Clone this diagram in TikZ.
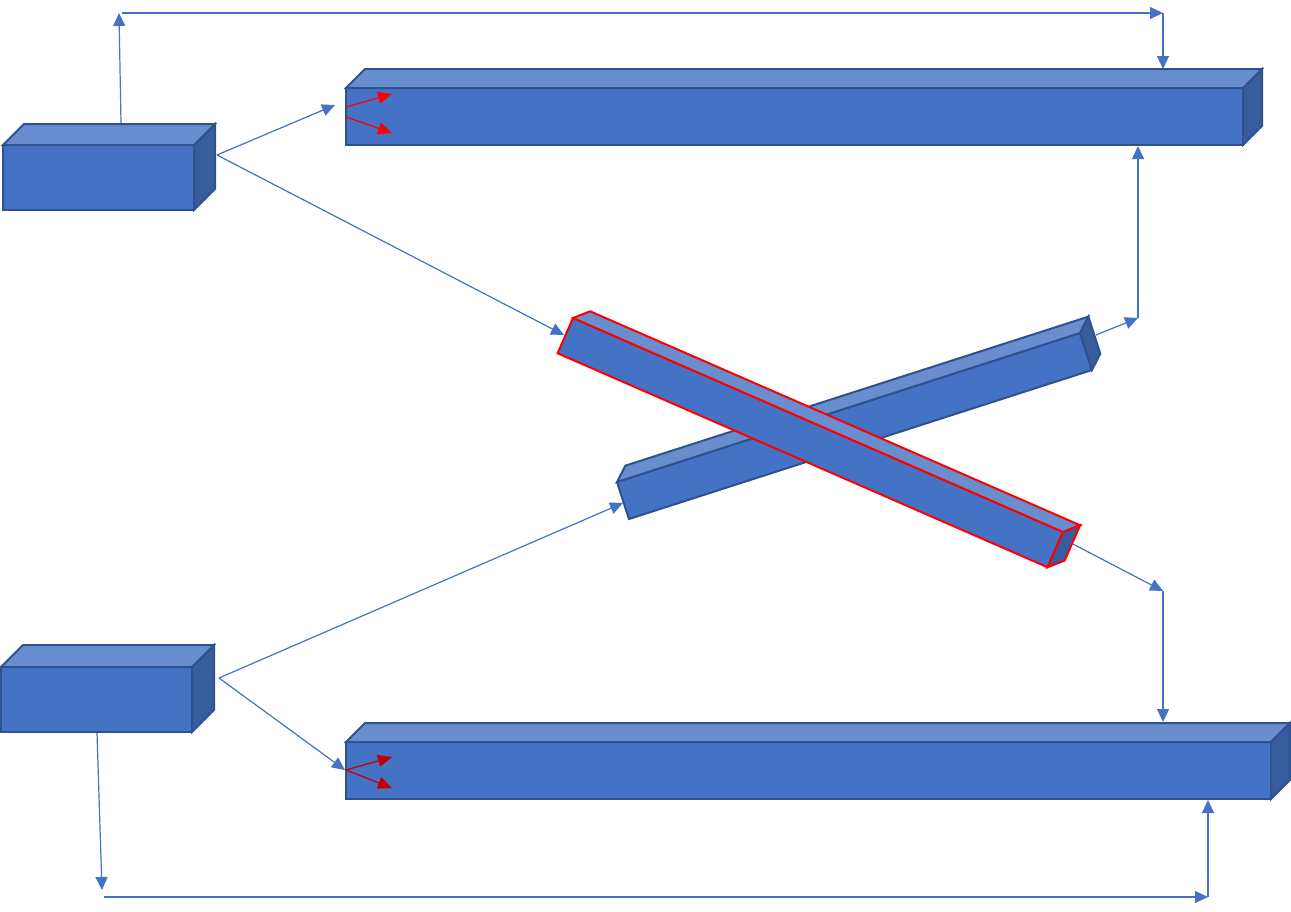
\documentclass[tikz,border=0pt]{standalone}
\usepackage{xcolor}
\usetikzlibrary{arrows.meta}
\definecolor{boxfront}{HTML}{4472C4}
\definecolor{boxtop}{HTML}{698ED0}
\definecolor{boxside}{HTML}{385D9C}
\definecolor{boxedge}{HTML}{2F528F}
\definecolor{linkblue}{HTML}{4472C4}
\definecolor{darkred}{HTML}{C00000}

\tikzset{
  link/.style={draw=linkblue, line width=0.6pt, -{Triangle[length=6.5pt, width=6pt]}},
  flow/.style={draw=#1, line width=0.6pt, -{Triangle[length=7pt, width=6pt]}},
  face/.style={draw=#1, line width=1pt},
}

% width, height, depth, edge colour (local frame, y pointing down)
\newcommand{\drawcuboid}[4]{%
  \filldraw[face=#4, fill=boxfront] (0,0) rectangle (#1,#2);
  \filldraw[face=#4, fill=boxtop] (0,0) -- (#3,-#3) -- ({#1+#3},-#3) -- (#1,0) -- cycle;
  \filldraw[face=#4, fill=boxside] (#1,0) -- ({#1+#3},-#3) -- ({#1+#3},{#2-#3}) -- (#1,#2) -- cycle;
}

\begin{document}
\begin{tikzpicture}[x=0.5pt, y=-0.5pt]
  \useasboundingbox (0,0) rectangle (1291,911);

  % boxes
  \begin{scope}[shift={(3,145)}]
    \drawcuboid{191}{65}{21}{boxedge}
  \end{scope}
  \begin{scope}[shift={(1,667)}]
    \drawcuboid{191}{65}{22}{boxedge}
  \end{scope}
  \begin{scope}[shift={(346,88)}]
    \drawcuboid{897}{57}{19}{boxedge}
  \end{scope}
  \begin{scope}[shift={(346,742)}]
    \drawcuboid{925}{57}{19}{boxedge}
  \end{scope}
  \begin{scope}[shift={(617,482)}, rotate=17.84]
    \drawcuboid{486.4}{38.9}{13}{boxedge}
  \end{scope}
  \begin{scope}[shift={(573,318)}, rotate=-23.59]
    \drawcuboid{534.7}{38.5}{13}{red}
  \end{scope}

  % connector ends
  \coordinate (a-top) at (121,123);
  \coordinate (a-up) at (119,13);
  \coordinate (top-left) at (122,13);
  \coordinate (top-right) at (1163,13);
  \coordinate (c-top) at (1163,69);
  \coordinate (a-side) at (217,155);
  \coordinate (c-left) at (335,105);
  \coordinate (e-left) at (564,335);
  \coordinate (f-right) at (1096,335);
  \coordinate (f-turn) at (1138,318);
  \coordinate (c-bottom) at (1138,146);
  \coordinate (e-right) at (1073,544);
  \coordinate (e-turn) at (1163,591);
  \coordinate (d-top) at (1163,722);
  \coordinate (b-side) at (219,678);
  \coordinate (f-left) at (623,503);
  \coordinate (d-left) at (345,770);
  \coordinate (b-bottom) at (97,733);
  \coordinate (b-down) at (102,890);
  \coordinate (bottom-left) at (104,897);
  \coordinate (bottom-right) at (1208,897);
  \coordinate (d-bottom) at (1208,800);

  \draw[link] (a-top) -- (a-up);
  \draw[link] (top-left) -- (top-right);
  \draw[link] (top-right) -- (c-top);
  \draw[link] (a-side) -- (c-left);
  \draw[link] (a-side) -- (e-left);
  \draw[link] (f-right) -- (f-turn);
  \draw[link] (f-turn) -- (c-bottom);
  \draw[link] (e-right) -- (e-turn);
  \draw[link] (e-turn) -- (d-top);
  \draw[link] (b-side) -- (f-left);
  \draw[link] (b-side) -- (d-left);
  \draw[link] (b-bottom) -- (b-down);
  \draw[link] (bottom-left) -- (bottom-right);
  \draw[link] (bottom-right) -- (d-bottom);

  % red arrows in the bars
  \coordinate (c-in1) at (346,107);
  \coordinate (c-in2) at (346,117);
  \coordinate (c-out1) at (392,94);
  \coordinate (c-out2) at (392,133);
  \coordinate (d-in) at (346,770);
  \coordinate (d-out1) at (392,757);
  \coordinate (d-out2) at (392,788);
  \draw[flow=red] (c-in1) -- (c-out1);
  \draw[flow=red] (c-in2) -- (c-out2);
  \draw[flow=darkred] (d-in) -- (d-out1);
  \draw[flow=darkred] (d-in) -- (d-out2);
\end{tikzpicture}
\end{document}
